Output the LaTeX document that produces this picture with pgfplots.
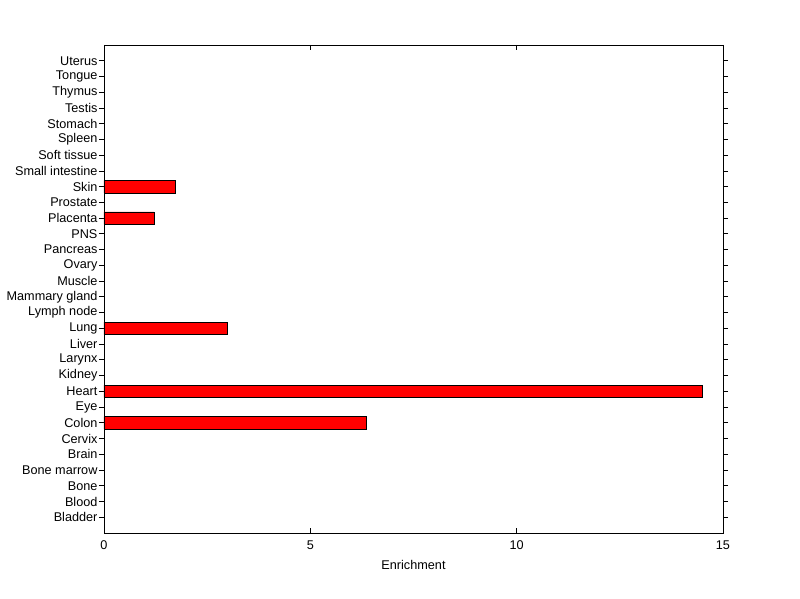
\documentclass[border=0pt]{standalone}
\usepackage{pgfplots}
\pgfplotsset{compat=1.18}
\usepackage{fontspec}
\setmainfont{Liberation Sans}
\begin{document}
\fontsize{9.5}{11}\selectfont
\begin{tikzpicture}
\begin{axis}[
  name=ax,
  at={(0,0)}, anchor=south west,
  scale only axis,
  width=464.25pt, height=366pt,
  xmin=0, xmax=15, ymin=0, ymax=31,
  xtick={0,5,10,15},
  ytick={1,...,30},
  yticklabels={Bladder,Blood,Bone,Bone marrow,Brain,Cervix,Colon,Eye,Heart,Kidney,Larynx,Liver,Lung,Lymph node,Mammary gland,Muscle,Ovary,Pancreas,PNS,Placenta,Prostate,Skin,Small intestine,Soft tissue,Spleen,Stomach,Testis,Thymus,Tongue,Uterus},
  tick align=inside,
  tick pos=both,
  major tick length=3.75pt,
  tick style={black, line width=0.6pt},
  axis line style={line width=0.6pt},
  xbar,
  bar width=0.8,
  xlabel={Enrichment},
  xlabel style={yshift=-1pt},
  ticklabel style={font=\fontsize{9.5}{11}\selectfont},
  label style={font=\fontsize{9.5}{11}\selectfont},
  /pgf/number format/assume math mode=true,
  yticklabel style={xshift=2.2pt},
  xticklabel style={yshift=-2.5pt},
]
\addplot[fill=red, draw=black, line width=0.5pt] coordinates {
  (6.35,7) (14.49,9) (2.98,13) (1.21,20) (1.72,22)
};
\end{axis}
\path[use as bounding box] (-78pt,-49.5pt) rectangle (522pt,399.75pt);
\end{tikzpicture}
\end{document}
